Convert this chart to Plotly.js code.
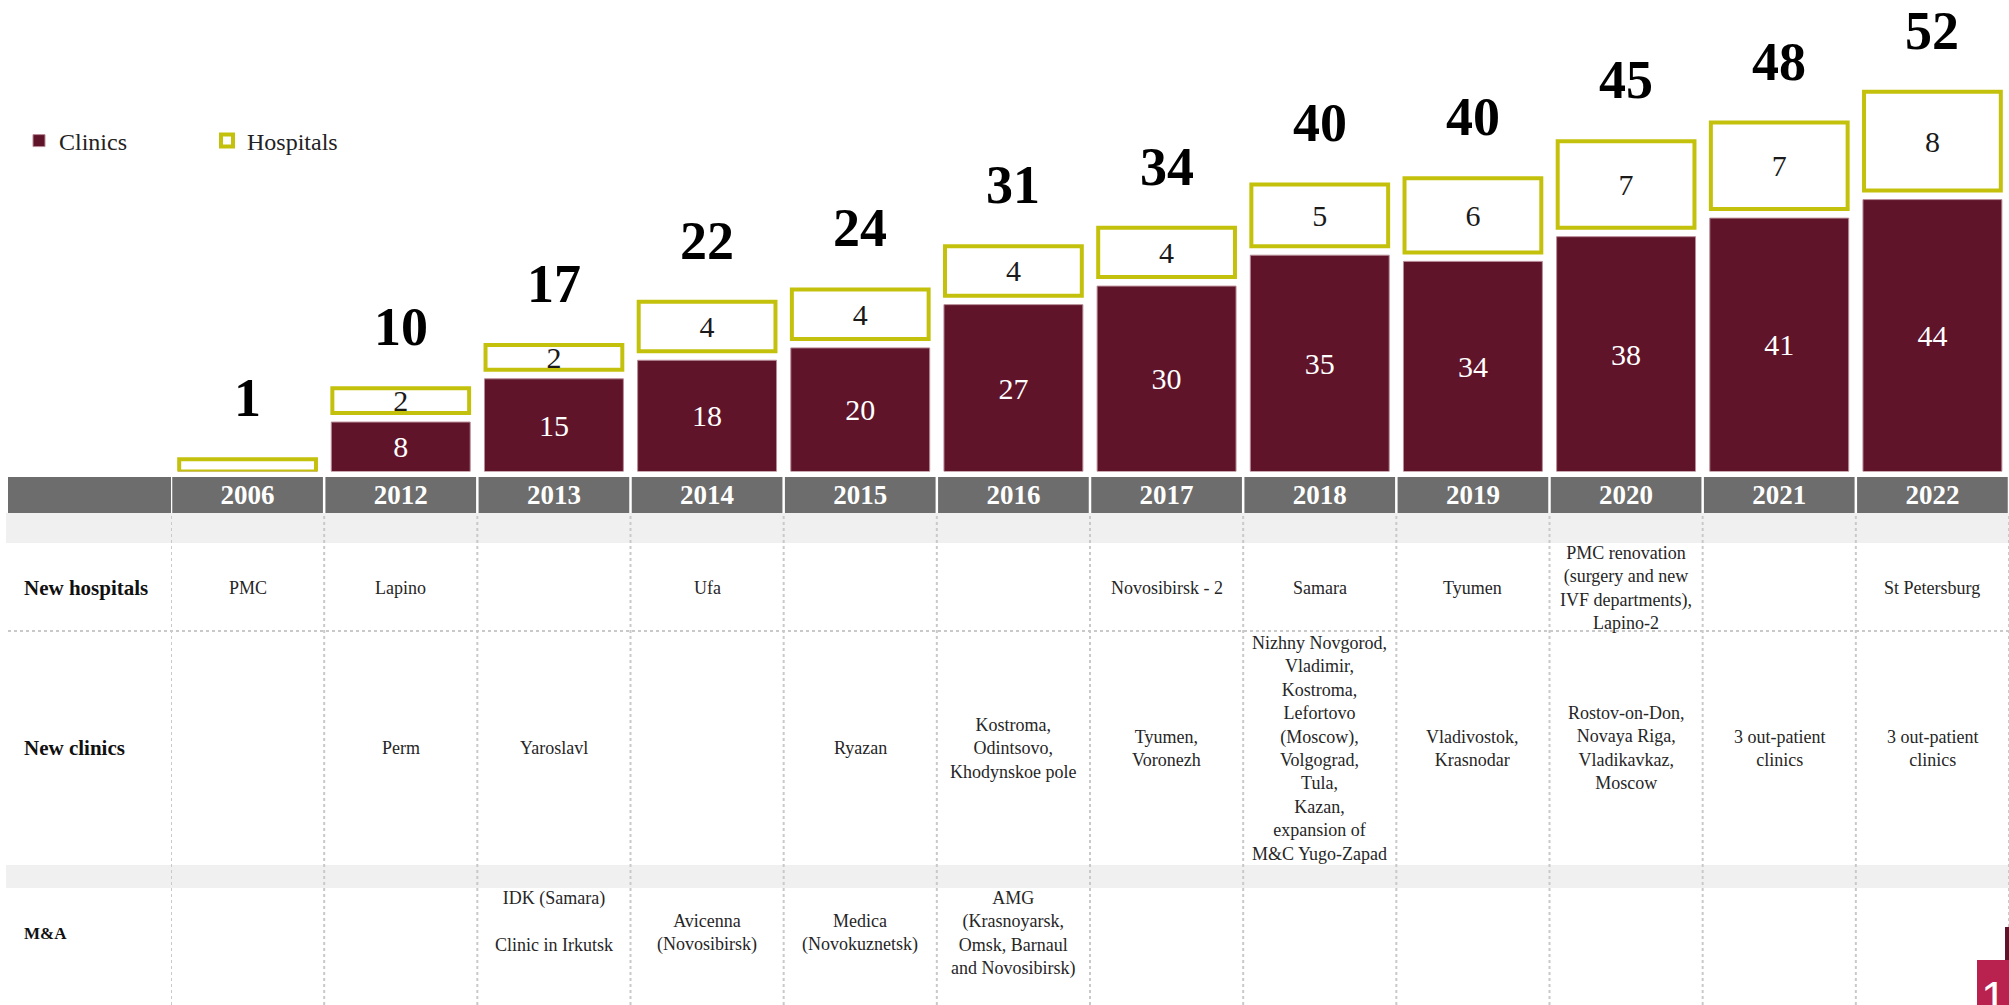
<!DOCTYPE html>
<html><head><meta charset="utf-8">
<script src="https://cdn.plot.ly/plotly-3.0.1.min.js"></script>
<style>html,body{margin:0;padding:0;background:#fff;overflow:hidden}#chart{width:2009px;height:1005px}</style>
</head><body><div id="chart"></div>
<script>
// ---- data ----
const years = ['2006','2012','2013','2014','2015','2016','2017','2018','2019','2020','2021','2022'];
const clinics = [0, 8, 15, 18, 20, 27, 30, 35, 34, 38, 41, 44];
const hospitals = [1, 2, 2, 4, 4, 4, 4, 5, 6, 7, 7, 8];
const rowLabels = ['New hospitals', 'New clinics', 'M&A'];
const newHospitals = ['PMC','Lapino','','Ufa','','','Novosibirsk - 2','Samara','Tyumen',
  'PMC renovation<br>(surgery and new<br>IVF departments),<br>Lapino-2','','St Petersburg'];
const newClinics = ['','Perm','Yaroslavl','','Ryazan','Kostroma,<br>Odintsovo,<br>Khodynskoe pole',
  'Tyumen,<br>Voronezh',
  'Nizhny Novgorod,<br>Vladimir,<br>Kostroma,<br>Lefortovo<br>(Moscow),<br>Volgograd,<br>Tula,<br>Kazan,<br>expansion of<br>M&C Yugo-Zapad',
  'Vladivostok,<br>Krasnodar','Rostov-on-Don,<br>Novaya Riga,<br>Vladikavkaz,<br>Moscow',
  '3 out-patient<br>clinics','3 out-patient<br>clinics'];
const mna = ['','','IDK (Samara)<br><br>Clinic in Irkutsk<br> ','Avicenna<br>(Novosibirsk)','Medica<br>(Novokuznetsk)',
  'AMG<br>(Krasnoyarsk,<br>Omsk, Barnaul<br>and Novosibirsk)','','','','','',''];
const tableRows = [newHospitals, newClinics, mna];

// ---- layout constants ----
const W = 2009, H = 1005;
const px = v => v / W, py = v => 1 - v / H;
const SERIF = 'Liberation Serif, DejaVu Serif, serif';
const C_CLINIC = '#5f1429', C_HOSP = '#c4c10c', C_HEAD = '#6d6d6d', C_BAND = '#f0f0f0', C_DOT = '#c9c9c9';
const baselinePx = 471.5;
const clinicPxPerUnit = 6.18;
const hospScale = 2;           // hospital boxes are drawn at double scale
const gapPx = 9;
const yRange = baselinePx / clinicPxPerUnit;
const y2Range = yRange / hospScale;
const hospPxPerUnit = clinicPxPerUnit * hospScale;
const hospBase = clinics.map(c => c > 0 ? (c * clinicPxPerUnit + gapPx) / hospPxPerUnit : 0);
const totals = clinics.map((c, i) => c + hospitals[i]);
const rowCentersPx = [588, 748, 933];
const rowLabelSizes = [21, 21, 17];

const traces = [
  {type:'bar', x: years, y: clinics, name:'Clinics', yaxis:'y',
   width: 0.907,
   marker:{color:C_CLINIC, line:{color:'#b98d99', width:1}},
   text: clinics.map(v => v > 0 ? String(v) : ''), textposition:'inside', insidetextanchor:'middle',
   textangle:0, constraintext:'none', textfont:{family:SERIF, size:30, color:'#ffffff'}, hoverinfo:'skip'},
  {type:'bar', x: years, y: hospitals, base: hospBase, name:'Hospitals', yaxis:'y2',
   width: 0.893,
   marker:{color:'#ffffff', line:{color:C_HOSP, width:4}},
   text: hospitals.map((v, i) => clinics[i] > 0 ? String(v) : ''), textposition:'inside', insidetextanchor:'middle',
   textangle:0, constraintext:'none', textfont:{family:SERIF, size:30, color:'#1a1a1a'}, hoverinfo:'skip'}
];

const shapes = [];
const annotations = [];
// header band
shapes.push({type:'rect', xref:'paper', yref:'paper', x0:px(8), x1:1, y0:py(513), y1:py(477),
  fillcolor:C_HEAD, line:{width:0}, layer:'below'});
// light bands
shapes.push({type:'rect', xref:'paper', yref:'paper', x0:px(6), x1:1, y0:py(543), y1:py(513),
  fillcolor:C_BAND, line:{width:0}, layer:'below'});
shapes.push({type:'rect', xref:'paper', yref:'paper', x0:px(6), x1:1, y0:py(888), y1:py(865),
  fillcolor:C_BAND, line:{width:0}, layer:'below'});
// column separators
for (let k = -0.5; k <= years.length - 0.5; k += 1) {
  shapes.push({type:'line', xref:'x', yref:'paper', x0:k, x1:k, y0:py(477), y1:py(513),
    line:{color:'#ffffff', width:2.5}});
  shapes.push({type:'line', xref:'x', yref:'paper', x0:k, x1:k, y0:0, y1:py(513),
    line:{color:C_DOT, width:2, dash:'dot'}, layer:'below'});
}
// horizontal dotted line between rows
shapes.push({type:'line', xref:'paper', yref:'paper', x0:px(8), x1:1, y0:py(631), y1:py(631),
  line:{color:C_DOT, width:2, dash:'dot'}, layer:'below'});
// page-number corner
shapes.push({type:'rect', xref:'paper', yref:'paper', x0:px(2005), x1:1, y0:py(960), y1:py(927),
  fillcolor:C_CLINIC, line:{width:0}});
shapes.push({type:'rect', xref:'paper', yref:'paper', x0:px(1977), x1:1, y0:0, y1:py(960),
  fillcolor:'#b9214f', line:{width:0}});
annotations.push({xref:'paper', yref:'paper', x:px(1994), y:py(998), text:'1', showarrow:false,
  xanchor:'center', yanchor:'middle', font:{family:'Liberation Sans, Arial, sans-serif', size:46, color:'#ffffff'}});

// totals above bars
totals.forEach((t, i) => {
  annotations.push({xref:'x', yref:'y2', x:i, y:hospBase[i] + hospitals[i], text:String(t),
    showarrow:false, xanchor:'center', yanchor:'middle', yshift:61,
    font:{family:SERIF, size:54, color:'#000000', weight:'bold'}});
});
// row labels
rowLabels.forEach((lab, r) => {
  annotations.push({xref:'paper', yref:'paper', x:px(22), y:py(rowCentersPx[r]), text:lab,
    showarrow:false, xanchor:'left', yanchor:'middle',
    font:{family:SERIF, size:rowLabelSizes[r], color:'#111111', weight:'bold'}});
});
// table cells
tableRows.forEach((row, r) => {
  row.forEach((txt, i) => {
    if (!txt) return;
    annotations.push({xref:'x', yref:'paper', x:i, y:py(rowCentersPx[r]), text:txt,
      showarrow:false, xanchor:'center', yanchor:'middle', align:'center',
      font:{family:SERIF, size:18, color:'#262626'}});
  });
});

const layout = {
  width: W, height: H, margin:{l:0, r:0, t:0, b:0},
  paper_bgcolor:'#ffffff', plot_bgcolor:'rgba(0,0,0,0)',
  barmode:'overlay', showlegend:true,
  legend:{orientation:'h', x:px(19), xanchor:'left', y:py(141), yanchor:'middle',
    font:{family:SERIF, size:24, color:'#222222'}, entrywidth:143, entrywidthmode:'pixels',
    bgcolor:'rgba(0,0,0,0)'},
  xaxis:{type:'category', domain:[px(171), 1], range:[-0.5, years.length - 0.5], anchor:'y',
    showgrid:false, zeroline:false, showline:false, ticks:'', ticklabelstandoff:4,
    tickfont:{family:SERIF, size:27, color:'#ffffff', weight:'bold'}, fixedrange:true},
  yaxis:{domain:[py(baselinePx), 1], range:[0, yRange], visible:false, fixedrange:true},
  yaxis2:{overlaying:'y', range:[0, y2Range], visible:false, fixedrange:true},
  shapes, annotations,
  font:{family:SERIF}
};
Plotly.newPlot('chart', traces, layout, {displayModeBar:false, staticPlot:true});
</script></body></html>
